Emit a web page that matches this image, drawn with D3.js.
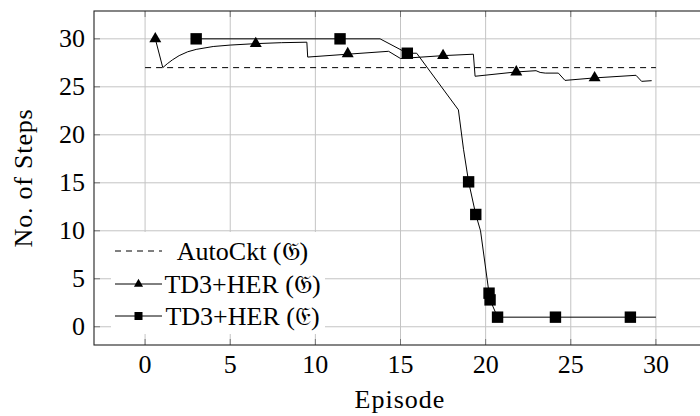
<!DOCTYPE html>
<html><head><meta charset="utf-8">
<script src="https://cdn.jsdelivr.net/npm/d3@7"></script>
<style>body{margin:0;background:#fff} text{font-family:"Liberation Serif",serif;fill:#000}</style>
</head><body><svg id="c" width="700" height="416"></svg>
<script>
const xTicks=[0,5,10,15,20,25,30];
const yTicks=[0,5,10,15,20,25,30];
const autoCkt=[[0,27],[30,27]];
const td3G=[[0.6,30.0],[1.04,27.0],[1.3,27.4],[1.6,27.8],[2.0,28.25],[2.5,28.65],[3.0,28.9],[4.0,29.2],[5.0,29.35],[6.5,29.5],[8.0,29.6],[9.5,29.65],[9.55,28.1],[11.9,28.4],[14.3,28.7],[15.0,27.95],[17.5,28.25],[19.28,28.4],[19.38,26.1],[21.8,26.55],[22.96,26.68],[23.2,26.5],[23.5,26.43],[24.27,26.43],[24.66,25.67],[26.4,25.93],[28.83,26.2],[29.16,25.57],[29.75,25.64]];
const td3GMarks=[[0.6,30],[6.5,29.5],[11.9,28.45],[17.5,28.25],[21.8,26.55],[26.4,25.93]];
const td3E=[[3.0,30],[11.45,30],[13.8,30],[15.4,28.5],[15.95,28.5],[18.4,22.6],[18.7,18.5],[19.0,15.1],[19.42,11.7],[19.7,10.0],[20.2,3.5],[20.26,2.8],[20.7,1.0],[24.1,1.0],[28.5,1.0],[30.0,1.0]];
const td3EMarks=[[3.0,30],[11.45,30],[15.4,28.5],[19.0,15.1],[19.42,11.7],[20.2,3.5],[20.26,2.8],[20.7,1.0],[24.1,1.0],[28.5,1.0]];
const legendLabels=["AutoCkt (\u{1D50A})","TD3+HER (\u{1D50A})","TD3+HER (\u{1D508})"];
const xLabel="Episode", yLabel="No. of Steps";

const svg=d3.select("#c");
const x=d3.scaleLinear([-3,33],[94,707]);
const y=d3.scaleLinear([-1.9,32.9],[345,11]);
const FS=26;

// grid
const g=svg.append("g");
g.selectAll(".gx").data(xTicks).join("line").attr("x1",d=>x(d)).attr("x2",d=>x(d)).attr("y1",y.range()[0]).attr("y2",y.range()[1]).attr("stroke","#c4c4c4").attr("stroke-width",1);
g.selectAll(".gy").data(yTicks).join("line").attr("y1",d=>y(d)).attr("y2",d=>y(d)).attr("x1",x.range()[0]).attr("x2",x.range()[1]).attr("stroke","#c4c4c4").attr("stroke-width",1);

const line=d3.line().x(d=>x(d[0])).y(d=>y(d[1]));
svg.append("path").attr("d",line(autoCkt)).attr("fill","none").attr("stroke","#000").attr("stroke-width",1).attr("stroke-dasharray","6,5");
svg.append("path").attr("d",line(td3G)).attr("fill","none").attr("stroke","#000").attr("stroke-width",1);
svg.append("path").attr("d",line(td3E)).attr("fill","none").attr("stroke","#000").attr("stroke-width",1);

const tri=d3.symbol(d3.symbolTriangle,62);
svg.selectAll(".mt").data(td3GMarks).join("path").attr("d",tri()).attr("transform",d=>`translate(${x(d[0])},${y(d[1])})`).attr("fill","#000");
svg.selectAll(".ms").data(td3EMarks).join("rect").attr("x",d=>x(d[0])-5.7).attr("y",d=>y(d[1])-5.7).attr("width",11.4).attr("height",11.4).attr("fill","#000");

// legend
const lg=svg.append("g");
lg.append("rect").attr("x",111).attr("y",232).attr("width",214).attr("height",102).attr("fill","#fff");
const rows=[251,284,316];
legendLabels.forEach((t,i)=>{
  const ly=rows[i];
  lg.append("line").attr("x1",115).attr("x2",162).attr("y1",ly).attr("y2",ly).attr("stroke","#000").attr("stroke-width",1).attr("stroke-dasharray",i==0?"6,5":null);
  if(i==1) lg.append("path").attr("d",d3.symbol(d3.symbolTriangle,36)()).attr("transform",`translate(138.5,${ly})`).attr("fill","#000");
  if(i==2) lg.append("rect").attr("x",134.5).attr("y",ly-4).attr("width",8).attr("height",8).attr("fill","#000");
  lg.append("text").attr("x",242.5).attr("y",ly).attr("dy","0.35em").attr("text-anchor","middle").attr("font-size",FS).text(t);
});

// ticks inward
const tk=svg.append("g").attr("stroke","#777").attr("stroke-width",1);
xTicks.forEach(d=>{
  tk.append("line").attr("x1",x(d)).attr("x2",x(d)).attr("y1",345).attr("y2",339);
  tk.append("line").attr("x1",x(d)).attr("x2",x(d)).attr("y1",11).attr("y2",17);
});
yTicks.forEach(d=>{
  tk.append("line").attr("y1",y(d)).attr("y2",y(d)).attr("x1",94).attr("x2",100);
  tk.append("line").attr("y1",y(d)).attr("y2",y(d)).attr("x1",707).attr("x2",701);
});
svg.append("rect").attr("x",94).attr("y",11).attr("width",613).attr("height",334).attr("fill","none").attr("stroke","#222").attr("stroke-width",1.1);

// tick labels
svg.selectAll(".xl").data(xTicks).join("text").attr("x",d=>x(d)).attr("y",373).attr("text-anchor","middle").attr("font-size",FS).text(d=>d);
svg.selectAll(".yl").data(yTicks).join("text").attr("x",85).attr("y",d=>y(d)).attr("dy","0.33em").attr("text-anchor","end").attr("font-size",FS).text(d=>d);
svg.append("text").attr("x",400).attr("y",408).attr("text-anchor","middle").attr("font-size",FS).attr("letter-spacing",1).text(xLabel);
svg.append("text").attr("transform","translate(32,178) rotate(-90)").attr("text-anchor","middle").attr("font-size",FS).attr("letter-spacing",0.8).text(yLabel);
</script></body></html>
